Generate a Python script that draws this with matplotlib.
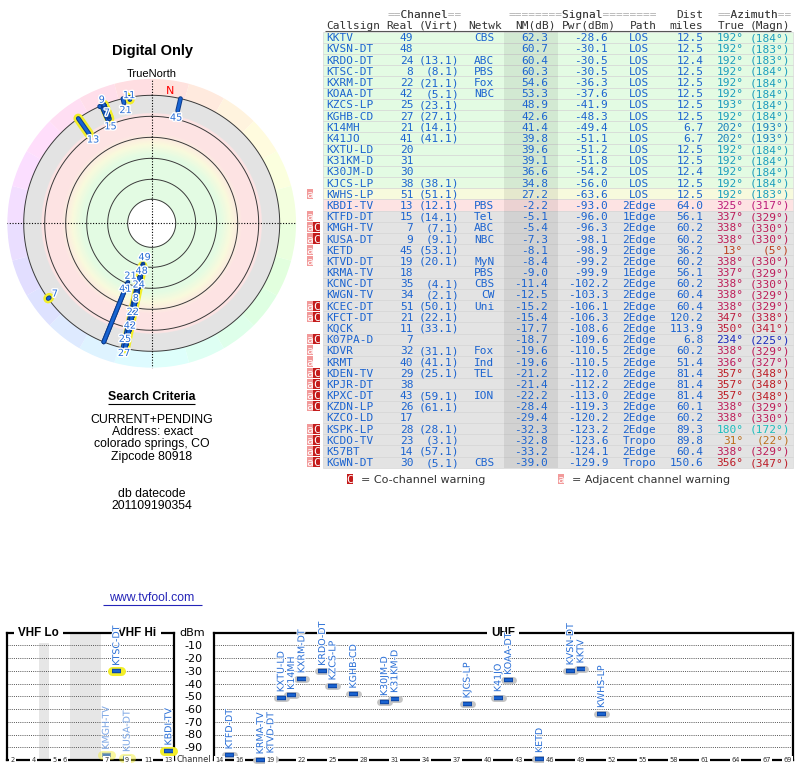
import colorsys
import numpy as np
import matplotlib
matplotlib.use("Agg")
import matplotlib.pyplot as plt
import matplotlib.patheffects as pe
from matplotlib.colors import to_rgb

# station table, as listed in the report
callsigns = ["KKTV", "KVSN-DT", "KRDO-DT", "KTSC-DT", "KXRM-DT", "KOAA-DT",
             "KZCS-LP", "KGHB-CD", "K14MH", "K41JO", "KXTU-LD", "K31KM-D",
             "K30JM-D", "KJCS-LP", "KWHS-LP", "KBDI-TV", "KTFD-DT", "KMGH-TV",
             "KUSA-DT", "KETD", "KTVD-DT", "KRMA-TV", "KCNC-DT", "KWGN-TV",
             "KCEC-DT", "KFCT-DT", "KQCK", "K07PA-D", "KDVR", "KRMT",
             "KDEN-TV", "KPJR-DT", "KPXC-DT", "KZDN-LP", "KZCO-LD", "KSPK-LP",
             "KCDO-TV", "K57BT", "KGWN-DT"]
real_ch = [49, 48, 24, 8, 22, 42, 25, 27, 21, 41, 20, 31, 30, 38, 51, 13, 15, 7,
           9, 45, 19, 18, 35, 34, 51, 21, 11, 7, 32, 40, 29, 38, 43, 26, 17, 28,
           23, 14, 30]
virt_ch = ["", "", "13.1", "8.1", "21.1", "5.1", "23.1", "27.1", "14.1", "41.1",
           "", "", "", "38.1", "51.1", "12.1", "14.1", "7.1", "9.1", "53.1",
           "20.1", "", "4.1", "2.1", "50.1", "22.1", "33.1", "", "31.1", "41.1",
           "25.1", "", "59.1", "61.1", "", "28.1", "3.1", "57.1", "5.1"]
networks = ["CBS", "", "ABC", "PBS", "Fox", "NBC", "", "", "", "", "", "", "",
            "", "", "PBS", "Tel", "ABC", "NBC", "", "MyN", "PBS", "CBS", "CW",
            "Uni", "", "", "", "Fox", "Ind", "TEL", "", "ION", "", "", "", "",
            "", "CBS"]
nm_db = [62.3, 60.7, 60.4, 60.3, 54.6, 53.3, 48.9, 42.6, 41.4, 39.8, 39.6, 39.1,
         36.6, 34.8, 27.2, -2.2, -5.1, -5.4, -7.3, -8.1, -8.4, -9.0, -11.4,
         -12.5, -15.2, -15.4, -17.7, -18.7, -19.6, -19.6, -21.2, -21.4, -22.2,
         -28.4, -29.4, -32.3, -32.8, -33.2, -39.0]
pwr_dbm = [-28.6, -30.1, -30.5, -30.5, -36.3, -37.6, -41.9, -48.3, -49.4, -51.1,
           -51.2, -51.8, -54.2, -56.0, -63.6, -93.0, -96.0, -96.3, -98.1, -98.9,
           -99.2, -99.9, -102.2, -103.3, -106.1, -106.3, -108.6, -109.6, -110.5,
           -110.5, -112.0, -112.2, -113.0, -119.3, -120.2, -123.2, -123.6,
           -124.1, -129.9]
paths = ["LOS"] * 15 + ["2Edge", "1Edge", "2Edge", "2Edge", "2Edge", "2Edge",
                        "1Edge", "2Edge", "2Edge", "2Edge", "2Edge", "2Edge",
                        "2Edge", "2Edge", "2Edge", "2Edge", "2Edge", "2Edge",
                        "2Edge", "2Edge", "2Edge", "Tropo", "2Edge", "Tropo"]
dist_mi = [12.5, 12.5, 12.4, 12.5, 12.5, 12.5, 12.5, 12.5, 6.7, 6.7, 12.5, 12.5,
           12.4, 12.5, 12.5, 64.0, 56.1, 60.2, 60.2, 36.2, 60.2, 56.1, 60.2,
           60.4, 60.4, 120.2, 113.9, 6.8, 60.2, 51.4, 81.4, 81.4, 81.4, 60.1,
           60.2, 89.3, 89.8, 60.4, 150.6]
az_true = [192, 192, 192, 192, 192, 192, 193, 192, 202, 202, 192, 192, 192, 192,
           192, 325, 337, 338, 338, 13, 338, 337, 338, 338, 338, 347, 350, 234,
           338, 336, 357, 357, 357, 338, 338, 180, 31, 338, 356]
az_magn = [184, 183, 183, 184, 184, 184, 184, 184, 193, 193, 184, 184, 184, 184,
           183, 317, 329, 330, 330, 5, 330, 329, 330, 329, 329, 338, 341, 225,
           329, 327, 348, 348, 348, 329, 330, 172, 22, 329, 347]
warnings = ["", "", "", "", "", "", "", "", "", "", "", "", "", "", "a", "", "a",
            "aC", "aC", "a", "a", "", "", "", "aC", "aC", "", "aC", "a", "a",
            "aC", "aC", "aC", "aC", "", "aC", "aC", "aC", "aC"]

criteria = ["CURRENT+PENDING", "Address: exact", "colorado springs, CO",
            "Zipcode 80918"]
datecode = ["db datecode", "201109190354"]

vhf_lo_ticks = [2, 4, 5, 6]
vhf_hi_ticks = [7, 9, 11, 13]
uhf_ticks = [14, 16, 19, 22, 25, 28, 31, 34, 37, 40, 43, 46, 49, 52, 55, 58,
             61, 64, 67, 69]
dbm_ticks = [-10, -20, -30, -40, -50, -60, -70, -80, -90]

MONO = "DejaVu Sans Mono"
ARIAL = "Liberation Sans"
BLUE = "#1c64d0"
LBL_BLUE = "#2a6fd6"


def zone_color(nm):
    stops = [-4.0, -3.0, 15.0, 26.0, 36.0]
    cols = np.array([to_rgb(c) for c in
                     ["#e3e3e3", "#fde3e3", "#fde3e3", "#fafadc", "#e3fbe3"]])
    return tuple(np.interp(nm, stops, cols[:, k]) for k in range(3))


def az_color(az, s=0.85, v=0.74):
    return colorsys.hsv_to_rgb((az % 360) / 360.0, s, v)


def vhf_slot(ch):
    return ch + (1 if ch >= 5 else 0) + (3 if ch >= 7 else 0)


fig = plt.figure(figsize=(8, 7.68), dpi=100)
page = fig.add_axes([0, 0, 1, 1])
page.set_xlim(0, 800)
page.set_ylim(768, 0)
page.axis("off")

# ---------------- table ----------------
n = len(callsigns)
row_h = 11.18
row_y = 37.3 + row_h * np.arange(n)
page.barh(row_y, 469.4, left=323.3, height=row_h,
          color=[zone_color(v) for v in nm_db], edgecolor="#d2d2d2", linewidth=0.4)
page.bar(530.85, row_h * n, width=53.7, bottom=row_y[0] - row_h / 2,
         color="black", alpha=0.07, linewidth=0)

hdr = dict(family=MONO, fontsize=8, va="center_baseline", ha="left")
for txt, word, x in [("==Channel==", "  Channel  ", 387.3),
                     ("========Signal========", "        Signal        ", 508.3),
                     ("==Azimuth==", "  Azimuth  ", 717.3)]:
    page.text(x, 14, txt, color="#b0b0b0", **hdr)
    page.text(x, 14, word, color="#333333", **hdr)
page.text(676.4, 14, "Dist", color="#333333", **hdr)
for word, x in [("Callsign", 326.7), ("Real", 386.4), ("(Virt)", 419.0),
                ("Netwk", 468.3), ("NM(dB)", 515.0), ("Pwr(dBm)", 561.7),
                ("Path", 630.0), ("miles", 669.7), ("True", 717.3),
                ("(Magn)", 750.0)]:
    page.text(x, 25, word, color="#333333", **hdr)
page.hlines(30.5, 325, 791, color="#555555", lw=0.8)

for i in range(n):
    y = row_y[i]
    kw = dict(family=MONO, fontsize=8, color=BLUE, va="center_baseline")
    page.text(326.7, y, callsigns[i], ha="left", **kw)
    page.text(413.3, y, str(real_ch[i]), ha="right", **kw)
    if virt_ch[i]:
        page.text(459.3, y, "(%s)" % virt_ch[i], ha="right", **kw)
    if networks[i]:
        page.text(494.3, y, networks[i], ha="right", **kw)
    page.text(548.3, y, "%.1f" % nm_db[i], ha="right", **kw)
    page.text(608.3, y, "%.1f" % pwr_dbm[i], ha="right", **kw)
    page.text(639.3, y, paths[i], ha="center", **kw)
    page.text(703.3, y, "%.1f" % dist_mi[i], ha="right", **kw)
    kw["color"] = az_color(az_true[i])
    page.text(743.3, y, "%d°" % az_true[i], ha="right", **kw)
    page.text(790, y, "(%d°)" % az_magn[i], ha="right", **kw)

A_COL, C_COL = "#f29a9a", "#c41c1c"
for i, flag in enumerate(warnings):
    for ch_, x, col in [("a", 310.0, A_COL), ("C", 316.7, C_COL)]:
        if ch_ in flag:
            page.bar(x, 10.2, width=6.6, bottom=row_y[i] - 5.1, color=col,
                     linewidth=0)
            page.text(x, row_y[i], ch_, family=MONO, fontsize=8, color="white",
                      ha="center", va="center_baseline")

for ch_, x, col, label, tx in [("C", 350.0, C_COL, "= Co-channel warning", 361),
                               ("a", 561.0, A_COL, "= Adjacent channel warning",
                                571.7)]:
    page.bar(x, 10, width=6.6, bottom=474, color=col, linewidth=0)
    page.text(x, 479, ch_, family=MONO, fontsize=8, color="white", ha="center",
              va="center_baseline")
    page.text(tx, 479, label, fontsize=8, color="#333333", ha="left",
              va="center_baseline")

# ---------------- left column texts ----------------
page.text(152, 51, "Digital Only", family=ARIAL, fontsize=10.5,
          fontweight="bold", ha="center", va="center")
page.text(152, 74, "TrueNorth", family=ARIAL, fontsize=8, ha="center",
          va="center")
page.text(152, 397.5, "Search Criteria", family=ARIAL, fontsize=8.8,
          fontweight="bold", ha="center", va="center")
page.hlines(404, 108.3, 195.3, color="black", lw=0.8)
for k, line in enumerate(criteria):
    page.text(152, 420 + 12.2 * k, line, family=ARIAL, fontsize=8.8,
              ha="center", va="center")
for k, line in enumerate(datecode):
    page.text(152, 494.3 + 12 * k, line, family=ARIAL, fontsize=8.8,
              ha="center", va="center")
page.text(152, 598.3, "www.tvfool.com", family=ARIAL, fontsize=8.8,
          color="#2525b8", ha="center", va="center")
page.hlines(604.5, 102.7, 201.7, color="#2525b8", lw=0.8)

# ---------------- polar radar ----------------
cx, cy, R = 151.7, 223.3, 145.0


def px_to_nm(px):
    return (107.0 - px) / 1.05


NM_CENTER, NM_EDGE = px_to_nm(0), px_to_nm(R)
pol = fig.add_axes([(cx - R) / 800, 1 - (cy + R) / 768, 2 * R / 800,
                    2 * R / 768], projection="polar")
pol.set_theta_zero_location("N")
pol.set_theta_direction(-1)
pol.set_ylim(NM_CENTER, NM_EDGE)
pol.axis("off")

levels = np.arange(79.0, -20.0, -0.5)
for lev in levels:
    c = zone_color(lev - 0.25)
    pol.bar(np.pi, -0.5, width=2 * np.pi, bottom=lev, color=c, edgecolor=c,
            linewidth=0.6)
sector = np.arange(0, 360, 15) + 7.5
pol.bar(np.deg2rad(sector), NM_EDGE + 0.6 + 20, width=np.deg2rad(15),
        bottom=-20, color=[colorsys.hsv_to_rgb(a / 360, 0.13, 1.0) for a in sector],
        linewidth=0)

ring = np.linspace(0, 2 * np.pi, 361)
for lev in [79, 60, 40, 20, 0, -20]:
    pol.plot(ring, np.full_like(ring, lev), color="#3a3a3a", lw=0.7)
for a in [0, 90, 180, 270]:
    pol.plot([np.deg2rad(a)] * 2, [NM_CENTER, NM_EDGE + 0.3], color="black",
             lw=0.8, ls=(0, (1, 1.5)))

shown = [i for i in range(n) if nm_db[i] >= -20]
for i in shown:
    if real_ch[i] <= 13:
        th = np.deg2rad(az_true[i])
        pol.plot([th, th], [nm_db[i], -20], color="#f2ee2a", lw=7,
                 solid_capstyle="round", zorder=3)
for i in shown:
    th = np.deg2rad(az_true[i])
    pol.plot([th, th], [nm_db[i], -20], color="#0b3a8a", lw=3.4,
             solid_capstyle="round", zorder=4)
    pol.plot([th, th], [nm_db[i], -20], color="#1763d2", lw=2.0,
             solid_capstyle="round", zorder=4)

placed = []
for i in sorted(shown, key=lambda k: -nm_db[k]):
    r_px = 107 - 1.05 * nm_db[i]
    near = [p for a, p in placed if abs(a - az_true[i]) <= 5]
    lab = max([r_px - 7] + [p + 14 for p in near])
    if lab > 140:
        continue
    placed.append((az_true[i], lab))
    pol.text(np.deg2rad(az_true[i]), px_to_nm(lab), str(real_ch[i]), fontsize=7,
             color=LBL_BLUE, ha="center", va="center", zorder=6,
             path_effects=[pe.withStroke(linewidth=2, foreground="white")])
pol.text(np.deg2rad(az_true[0] - az_magn[0]), px_to_nm(134), "N", color="red",
         fontsize=8, ha="center", va="center", zorder=6)

# ---------------- spectrum panels ----------------
bottom_f = 1 - 760 / 768
height_f = 127.5 / 768
vhf = fig.add_axes([7.3 / 800, bottom_f, (174 - 7.3) / 800, height_f])
uhf = fig.add_axes([214 / 800, bottom_f, (792.7 - 214) / 800, height_f])
vhf.set_xlim(1.5, 17.5)
uhf.set_xlim(13.5, 69.5)
for ax in (vhf, uhf):
    ax.set_ylim(-100, 0)
    ax.set_yticks(dbm_ticks)
    ax.set_xticks([])
    ax.tick_params(length=0)
    ax.grid(axis="y", color="#555555", lw=0.7, ls=(0, (1, 1.2)))
    ax.set_axisbelow(True)
    for sp in ax.spines.values():
        sp.set_linewidth(1.6)
vhf.set_yticklabels([])
uhf.set_yticklabels([str(v) for v in dbm_ticks], fontsize=8)
uhf.tick_params(axis="y", pad=8.4)
vhf.axvspan(4.5, 5.5, color="#e6e6e6", zorder=0.2, lw=0)
vhf.axvspan(7.5, 10.5, color="#e6e6e6", zorder=0.2, lw=0)

tick_box = dict(boxstyle="square,pad=0.2", fc="white", ec="none")
for ax, ticks in [(vhf, [vhf_slot(c) for c in vhf_lo_ticks + vhf_hi_ticks]),
                  (uhf, uhf_ticks)]:
    labels = vhf_lo_ticks + vhf_hi_ticks if ax is vhf else uhf_ticks
    for pos, lab in zip(ticks, labels):
        ax.text(pos, 0, str(lab), transform=ax.get_xaxis_transform(),
                fontsize=4.8, color="#333333", ha="center", va="center",
                bbox=tick_box, clip_on=False, zorder=5)

title_box = dict(boxstyle="square,pad=0.35", fc="white", ec="none")
for ax, x, title in [(vhf, 4.5, "VHF Lo"), (vhf, 14.0, "VHF Hi"),
                     (uhf, 41.5, "UHF")]:
    ax.text(x, 1, title, transform=ax.get_xaxis_transform(), family=ARIAL,
            fontsize=8.4, fontweight="bold", ha="center", va="center",
            bbox=title_box, clip_on=False, zorder=5)

page.text(205.5, 632.7, "dBm", fontsize=8, ha="right", va="center")
page.text(193.7, 760, "Channel", fontsize=6, ha="center", va="center",
          color="#333333")

for i in range(n):
    if nm_db[i] < -10:
        continue
    vhf_station = real_ch[i] <= 13
    ax = vhf if vhf_station else uhf
    x = vhf_slot(real_ch[i]) if vhf_station else real_ch[i]
    y = pwr_dbm[i]
    alpha = 0.45 if "C" in warnings[i] else 1.0
    if vhf_station:
        ax.hlines(y, x - 0.42, x + 0.42, color="#f2ee2a", lw=6.5, alpha=alpha,
                  capstyle="round", clip_on=False, zorder=3)
    else:
        ax.hlines(y, x - 0.42, x + 0.42, color="#c4c4c4", lw=5, alpha=alpha,
                  capstyle="round", clip_on=False, zorder=3)
    ax.hlines(y, x - 0.42, x + 0.42, color="#0d47a8", lw=3.2, alpha=alpha,
              clip_on=False, zorder=3.5)
    ax.hlines(y, x - 0.36, x + 0.36, color="#1a63d0", lw=1.6, alpha=alpha,
              clip_on=False, zorder=3.6)
    ax.annotate(callsigns[i], (x, y), xytext=(0, 4), textcoords="offset points",
                rotation=90, fontsize=6.8, color=LBL_BLUE, alpha=alpha,
                ha="center", va="bottom", annotation_clip=False, zorder=6,
                path_effects=[pe.withStroke(linewidth=1.5, foreground="white")])

fig.savefig("out.png", dpi=100)
